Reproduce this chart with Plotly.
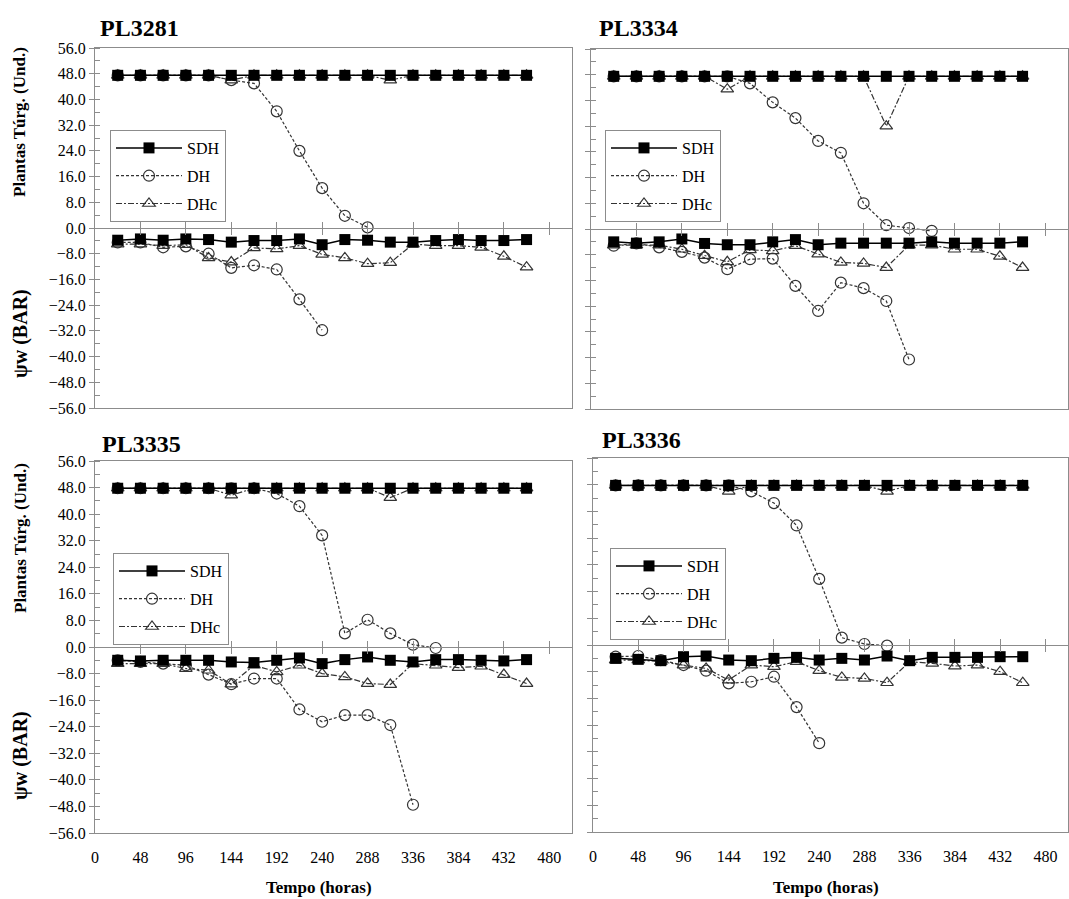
import plotly.graph_objects as go

# ---------------- data ----------------
hours = [24, 48, 72, 96, 120, 144, 168, 192, 216, 240, 264, 288, 312, 336, 360, 384, 408, 432, 456]
panels = ["PL3281", "PL3334", "PL3335", "PL3336"]
y_ticks = [56, 48, 40, 32, 24, 16, 8, 0, -8, -16, -24, -32, -40, -48, -56]
x_ticks = [0, 48, 96, 144, 192, 240, 288, 336, 384, 432, 480]
series_names = ["SDH", "DH", "DHc"]
N = None

# PL3281
sdh_top_1 = [47.5, 47.5, 47.5, 47.5, 47.5, 47.5, 47.5, 47.5, 47.5, 47.5, 47.5, 47.5, 47.5, 47.5, 47.5, 47.5, 47.5, 47.5, 47.5]
dh_top_1 = [47.5, 47.5, 47.5, 47.5, 47.5, 46.0, 45.0, 36.3, 24.0, 12.4, 3.8, 0.2, N, N, N, N, N, N, N]
dhc_top_1 = [47.5, 47.5, 47.5, 47.5, 47.5, 46.0, 47.5, 47.5, 47.5, 47.5, 47.5, 47.5, 46.0, 47.5, 47.5, 47.5, 47.5, 47.5, 47.5]
sdh_bot_1 = [-3.8, -3.4, -3.8, -3.4, -3.6, -4.4, -3.9, -3.9, -3.4, -5.2, -3.6, -3.8, -4.4, -4.4, -3.9, -3.6, -3.9, -3.9, -3.6]
dh_bot_1 = [-4.5, -4.5, -6.0, -5.7, -8.0, -12.4, -11.6, -12.9, -22.2, -31.8, N, N, N, N, N, N, N, N, N]
dhc_bot_1 = [-5.0, -5.0, -5.5, -5.2, -9.3, -10.6, -6.2, -6.5, -5.5, -8.2, -9.3, -11.1, -10.8, -5.0, -5.5, -5.5, -6.0, -8.8, -12.2]

# PL3334
sdh_top_2 = [47.5, 47.5, 47.5, 47.5, 47.5, 47.5, 47.5, 47.5, 47.5, 47.5, 47.5, 47.5, 47.5, 47.5, 47.5, 47.5, 47.5, 47.5, 47.5]
dh_top_2 = [47.5, 47.5, 47.5, 47.5, 47.5, 47.5, 45.3, 39.4, 34.5, 27.4, 23.7, 8.0, 1.2, 0.3, -0.6, N, N, N, N]
dhc_top_2 = [47.5, 47.5, 47.5, 47.5, 47.5, 43.5, 47.5, 47.5, 47.5, 47.5, 47.5, 47.5, 32.0, 47.5, 47.5, 47.5, 47.5, 47.5, 47.5]
sdh_bot_2 = [-4.0, -4.4, -4.0, -3.1, -4.5, -4.9, -4.9, -4.0, -3.3, -4.9, -4.4, -4.4, -4.4, -4.4, -4.0, -4.4, -4.4, -4.4, -4.0]
dh_bot_2 = [-5.2, -4.5, -5.7, -7.1, -8.9, -12.5, -9.4, -9.2, -17.7, -25.5, -16.7, -18.4, -22.4, -40.6, N, N, N, N, N]
dhc_bot_2 = [-5.0, -5.0, -5.0, -6.3, -8.3, -10.2, -6.5, -6.8, -5.2, -7.8, -10.4, -10.7, -12.0, -5.0, -5.0, -6.3, -6.3, -8.5, -12.0]

# PL3335
sdh_top_3 = [47.8, 47.8, 47.8, 47.8, 47.8, 47.8, 47.8, 47.8, 47.8, 47.8, 47.8, 47.8, 47.8, 47.8, 47.8, 47.8, 47.8, 47.8, 47.8]
dh_top_3 = [47.8, 47.8, 47.8, 47.8, 47.8, 47.8, 47.8, 46.2, 42.4, 33.6, 4.1, 8.2, 4.1, 0.7, -0.3, N, N, N, N]
dhc_top_3 = [47.8, 47.8, 47.8, 47.8, 47.8, 45.7, 47.8, 47.8, 47.8, 47.8, 47.8, 47.8, 45.0, 47.8, 47.8, 47.8, 47.8, 47.8, 47.8]
sdh_bot_3 = [-4.0, -4.2, -4.0, -4.0, -4.0, -4.5, -4.7, -4.0, -3.3, -5.0, -3.8, -3.0, -4.0, -4.5, -3.8, -3.8, -4.0, -4.2, -3.8]
dh_bot_3 = [-4.0, -4.5, -5.0, -5.5, -8.3, -11.2, -9.5, -9.5, -18.8, -22.5, -20.5, -20.5, -23.5, -47.5, N, N, N, N, N]
dhc_bot_3 = [-5.0, -5.0, -5.0, -6.5, -7.0, -11.2, -5.5, -7.5, -5.5, -8.0, -9.0, -11.0, -11.3, -5.0, -5.5, -6.2, -5.8, -8.3, -11.0]

# PL3336
sdh_top_4 = [47.8, 47.8, 47.8, 47.8, 47.8, 47.8, 47.8, 47.8, 47.8, 47.8, 47.8, 47.8, 47.8, 47.8, 47.8, 47.8, 47.8, 47.8, 47.8]
dh_top_4 = [47.8, 47.8, 47.8, 47.8, 47.8, 47.8, 46.0, 42.5, 35.8, 19.8, 2.2, 0.3, -0.2, N, N, N, N, N, N]
dhc_top_4 = [47.8, 47.8, 47.8, 47.8, 47.8, 46.0, 47.8, 47.8, 47.8, 47.8, 47.8, 47.8, 46.0, 47.8, 47.8, 47.8, 47.8, 47.8, 47.8]
sdh_bot_4 = [-4.0, -4.3, -4.7, -3.5, -3.3, -4.5, -4.7, -4.0, -3.7, -4.5, -4.0, -4.5, -3.3, -4.7, -3.7, -3.7, -3.7, -3.5, -3.5]
dh_bot_4 = [-3.5, -3.3, -4.5, -6.0, -7.7, -11.5, -11.0, -9.5, -18.6, -29.4, N, N, N, N, N, N, N, N, N]
dhc_bot_4 = [-4.5, -4.5, -5.0, -6.0, -7.0, -10.5, -6.0, -6.5, -5.0, -7.7, -9.7, -10.0, -11.3, -5.0, -5.5, -6.3, -6.0, -8.0, -11.3]

data = [
    (sdh_top_1, sdh_bot_1, dh_top_1, dh_bot_1, dhc_top_1, dhc_bot_1),
    (sdh_top_2, sdh_bot_2, dh_top_2, dh_bot_2, dhc_top_2, dhc_bot_2),
    (sdh_top_3, sdh_bot_3, dh_top_3, dh_bot_3, dhc_top_3, dhc_bot_3),
    (sdh_top_4, sdh_bot_4, dh_top_4, dh_bot_4, dhc_top_4, dhc_bot_4),
]

# ---------------- layout geometry (pixels) ----------------
W, H = 1069, 899
def px(v):
    return v / W
def py(v):
    return 1 - v / H

boxes = [  # x0, x1, ytop, ybottom
    (95, 572, 48, 408),
    (591, 1068, 49, 409),
    (95, 572, 461, 833),
    (593, 1068, 458, 832),
]
legend_pos = [(110, 130), (605, 130), (113, 553), (610, 548)]
title_pos = [(98, 28), (597, 28), (100, 444), (600, 440)]
xtitle_center = [None, None, 319, 826]

SERIF = "Liberation Serif"
GRID = "#8c8c8c"

styles = {
    "SDH": dict(line=dict(color="black", width=1.5),
                marker=dict(symbol="square", size=11, color="black")),
    "DH": dict(line=dict(color="#333333", width=1.2, dash="3px,2px"),
               marker=dict(symbol="circle-open", size=11, color="#333333", line=dict(width=1.2))),
    "DHc": dict(line=dict(color="#333333", width=1.2, dash="6px,2px,2px,2px"),
                marker=dict(symbol="triangle-up-open", size=11, color="#333333", line=dict(width=1.2))),
}
ranks = {"SDH": 1, "DH": 2, "DHc": 3}

fig = go.Figure()
layout = dict(width=W, height=H, autosize=False,
              margin=dict(l=0, r=0, t=0, b=0, pad=0, autoexpand=False),
              plot_bgcolor="white", paper_bgcolor="white",
              font=dict(family=SERIF, size=14, color="black"), annotations=[])

for i, (name, d) in enumerate(zip(panels, data)):
    k = i + 1
    xa = "x" if k == 1 else f"x{k}"
    ya = "y" if k == 1 else f"y{k}"
    leg = "legend" if k == 1 else f"legend{k}"
    series = {"SDH": (d[0], d[1]), "DH": (d[2], d[3]), "DHc": (d[4], d[5])}
    for sname in ["DHc", "DH", "SDH"]:
        top, bot = series[sname]
        for part, vals in (("top", top), ("bot", bot)):
            fig.add_trace(go.Scatter(
                x=hours, y=vals, mode="lines+markers", name=sname,
                xaxis=xa, yaxis=ya, legend=leg,
                legendgroup=f"{name}-{sname}", legendrank=ranks[sname],
                showlegend=(part == "top"), connectgaps=False,
                **styles[sname]))
    x0, x1, yt, yb = boxes[i]
    xdom = [px(x0), px(x1)]
    ydom = [py(yb), py(yt)]
    ymid = (yt + yb) / 2
    bottom_row = k >= 3
    left_col = k in (1, 3)
    layout[f"xaxis{'' if k == 1 else k}"] = dict(
        domain=xdom, anchor=ya, range=[0, 504], tickvals=x_ticks,
        showticklabels=bottom_row, ticks="", showline=True, linecolor=GRID, linewidth=1,
        mirror=True, showgrid=False, zeroline=False, automargin=False,
        ticklabelstandoff=10,
        tickfont=dict(family=SERIF, size=16, color="black"))
    layout[f"yaxis{'' if k == 1 else k}"] = dict(
        domain=ydom, anchor=xa, range=[-56, 56], tickvals=y_ticks, tickformat=".1f",
        showticklabels=left_col, ticks="outside", ticklen=5, tickcolor=GRID,
        showline=True, linecolor=GRID, linewidth=1, mirror=True,
        showgrid=False, zeroline=False, automargin=False,
        minor=dict(ticks="inside", ticklen=5, dtick=4, tickcolor=GRID),
        tickfont=dict(family=SERIF, size=16, color="black"))
    # zero-line axes with crossing ticks
    zpos = (ydom[0] + ydom[1]) / 2
    for j, tdir in enumerate(["inside", "outside"]):
        n = 5 + 2 * i + j
        layout[f"xaxis{n}"] = dict(
            overlaying=xa, anchor="free", position=zpos, domain=xdom,
            range=[0, 504], tickvals=x_ticks[1:], showticklabels=False,
            ticks=tdir, ticklen=6, tickcolor=GRID, showline=True, automargin=False,
            linecolor=GRID, linewidth=1, showgrid=False, zeroline=False)
        fig.add_trace(go.Scatter(x=[None], y=[None], xaxis=f"x{n}", yaxis=ya,
                                 showlegend=False, hoverinfo="skip"))
    lx, ly = legend_pos[i]
    layout[leg] = dict(x=px(lx), y=py(ly), xanchor="left", yanchor="top",
                       bordercolor=GRID, borderwidth=1, bgcolor="white",
                       font=dict(family=SERIF, size=16, color="black"),
                       traceorder="grouped", tracegroupgap=4, itemwidth=66,
                       entrywidth=122, entrywidthmode="pixels")
    tx, ty = title_pos[i]
    layout["annotations"].append(dict(
        text=f"<b>{name}</b>", x=px(tx), y=py(ty), xref="paper", yref="paper",
        xanchor="left", yanchor="middle", showarrow=False,
        font=dict(family=SERIF, size=24, color="black")))
    if left_col:
        layout["annotations"].append(dict(
            text="<b>Plantas Túrg. (Und.)</b>", x=px(20), y=py((yt + ymid) / 2 - 16),
            xref="paper", yref="paper", textangle=-90, showarrow=False,
            xanchor="center", yanchor="middle",
            font=dict(family=SERIF, size=17, color="black")))
        layout["annotations"].append(dict(
            text="<b>ψw (BAR)</b>", x=px(20), y=py((ymid + yb) / 2 + 16),
            xref="paper", yref="paper", textangle=-90, showarrow=False,
            xanchor="center", yanchor="middle",
            font=dict(family=SERIF, size=20, color="black")))
    if bottom_row:
        layout["annotations"].append(dict(
            text="<b>Tempo (horas)</b>", x=px(xtitle_center[i]), y=py(887),
            xref="paper", yref="paper", showarrow=False,
            xanchor="center", yanchor="middle",
            font=dict(family=SERIF, size=17, color="black")))

fig.update_layout(**layout)
fig.write_html("out.html", config={"displayModeBar": False},
               post_script="document.body.style.margin='0';document.body.style.overflow='hidden';")
